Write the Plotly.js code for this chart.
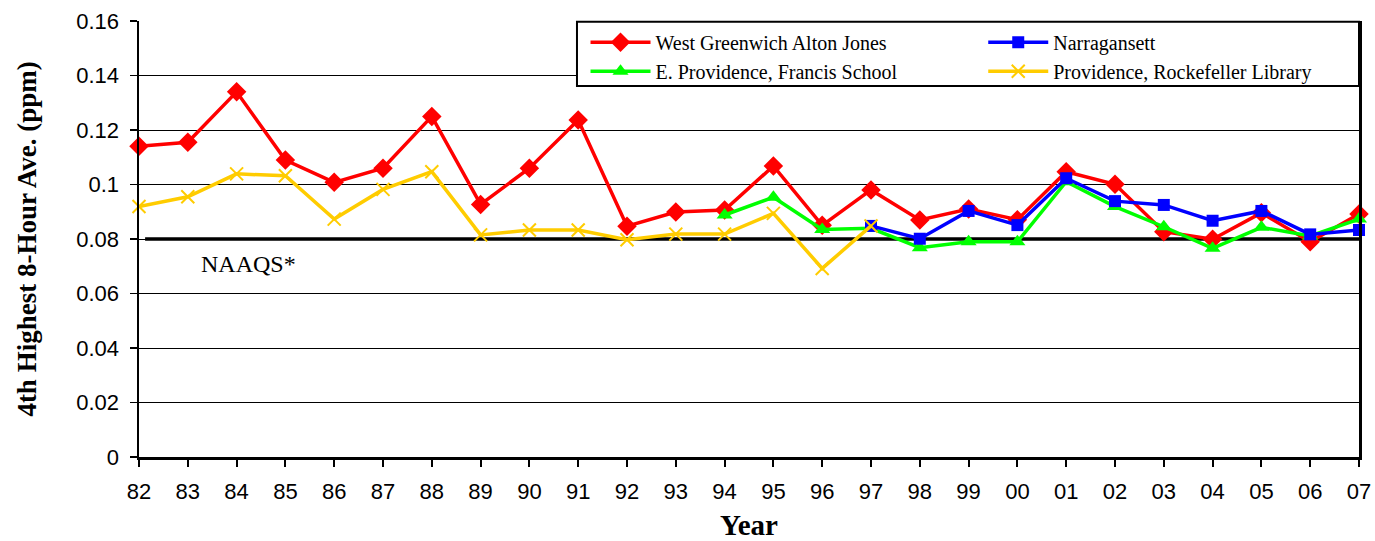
<!DOCTYPE html>
<html>
<head>
<meta charset="utf-8">
<script src="https://cdn.plot.ly/plotly-3.0.1.min.js"></script>
<style>html,body{margin:0;padding:0;background:#fff;}#chart{width:1375px;height:541px;}</style>
</head>
<body>
<div id="chart"></div>
<script>
const years = ["82","83","84","85","86","87","88","89","90","91","92","93","94","95","96","97","98","99","00","01","02","03","04","05","06","07"];
const westGreenwich = [0.114,0.1155,0.134,0.109,0.1008,0.106,0.125,0.0927,0.106,0.1237,0.0847,0.0899,0.0906,0.1068,0.085,0.098,0.087,0.091,0.0871,0.1047,0.1001,0.0827,0.0799,0.0896,0.079,0.0892];
const narragansett = [null,null,null,null,null,null,null,null,null,null,null,null,null,null,null,0.0848,0.0801,0.0903,0.0851,0.1023,0.0939,0.0925,0.0867,0.0903,0.0817,0.0833];
const eProvidence = [null,null,null,null,null,null,null,null,null,null,null,null,0.0888,0.0953,0.0835,0.0839,0.0768,0.079,0.079,0.101,0.0919,0.0845,0.0766,0.0843,0.0811,0.0873];
const rockefeller = [0.0919,0.0955,0.1039,0.1032,0.0873,0.0982,0.1047,0.0815,0.0833,0.0833,0.0797,0.0818,0.0818,0.0894,0.0692,0.0848,null,null,null,null,null,null,null,null,null,null];
const seriesNames = ["West Greenwich Alton Jones","Narragansett","E. Providence, Francis School","Providence, Rockefeller Library"];
const naaqsLevel = 0.08;
const naaqsLabel = "NAAQS*";
const yTicks = [0,0.02,0.04,0.06,0.08,0.1,0.12,0.14,0.16];
const yTickText = ["0","0.02","0.04","0.06","0.08","0.1","0.12","0.14","0.16"];

const serif = "Liberation Serif, Times New Roman, serif";
const sans = "Liberation Sans, Arial, sans-serif";

function tr(y, name, color, symbol, size, legend, mline) {
  return {
    x: years, y: y, name: name, type: 'scatter', mode: 'lines+markers',
    line: {color: color, width: 3.5},
    marker: {color: color, symbol: symbol, size: size, line: mline || {width: 0}},
    legend: legend, connectgaps: false, cliponaxis: false
  };
}
const data = [
  tr(westGreenwich, seriesNames[0], '#FF0000', 'diamond', 15, 'legend'),
  tr(eProvidence, seriesNames[2], '#00FF00', 'triangle-up', 14, 'legend'),
  tr(narragansett, seriesNames[1], '#0000FF', 'square', 12, 'legend2'),
  tr(rockefeller, seriesNames[3], '#FFCC00', 'x-thin-open', 13, 'legend2', {width: 2, color: '#FFCC00'})
];

const legendCommon = {
  orientation: 'v', yanchor: 'top', xanchor: 'left', xref: 'paper', yref: 'paper',
  bgcolor: 'rgba(0,0,0,0)', borderwidth: 0, itemwidth: 60, tracegroupgap: 0,
  font: {family: serif, size: 20, color: '#000'}
};

const layout = {
  width: 1375, height: 541,
  margin: {l: 139, r: 16, t: 21, b: 84},
  paper_bgcolor: '#fff', plot_bgcolor: '#fff',
  showlegend: true,
  legend: Object.assign({}, legendCommon, {x: 0.366, y: 0.996}),
  legend2: Object.assign({}, legendCommon, {x: 0.692, y: 0.996}),
  xaxis: {
    type: 'category', range: [0, years.length - 1],
    showline: true, linecolor: '#000', linewidth: 2.5,
    ticks: 'outside', ticklen: 7, tickwidth: 2, tickcolor: '#000',
    ticklabelstandoff: 6,
    showgrid: false, zeroline: false,
    tickfont: {family: sans, size: 22, color: '#000'},
    title: {text: '<b>Year</b>', font: {family: serif, size: 29, color: '#000'}, standoff: 16}
  },
  yaxis: {
    range: [0, 0.16], tickvals: yTicks, ticktext: yTickText,
    showline: true, linecolor: '#000', linewidth: 2.5, mirror: true,
    ticks: 'outside', ticklen: 7, tickwidth: 1.5, tickcolor: '#000',
    ticklabelstandoff: 6,
    showgrid: true, gridcolor: '#000', gridwidth: 1, zeroline: false,
    tickfont: {family: sans, size: 22, color: '#000'},
    title: {text: '<b>4th Highest 8-Hour Ave. (ppm)</b>', font: {family: serif, size: 27, color: '#000'}, standoff: 32}
  },
  shapes: [
    {type: 'line', xref: 'paper', yref: 'y', x0: 0.005, x1: 1, y0: naaqsLevel, y1: naaqsLevel,
     line: {color: '#000', width: 3.5}, layer: 'between'},
    {type: 'rect', xref: 'paper', yref: 'paper', x0: 0.359, x1: 1, y0: 0.851, y1: 0.998,
     line: {color: '#000', width: 2}, fillcolor: '#fff', layer: 'above'}
  ],
  annotations: [
    {text: naaqsLabel, xref: 'paper', yref: 'y', x: 0.049, y: naaqsLevel, xanchor: 'left', yanchor: 'top',
     yshift: -10, showarrow: false, font: {family: serif, size: 24, color: '#000'}}
  ]
};

Plotly.newPlot('chart', data, layout, {displayModeBar: false, staticPlot: true});
</script>
</body>
</html>
